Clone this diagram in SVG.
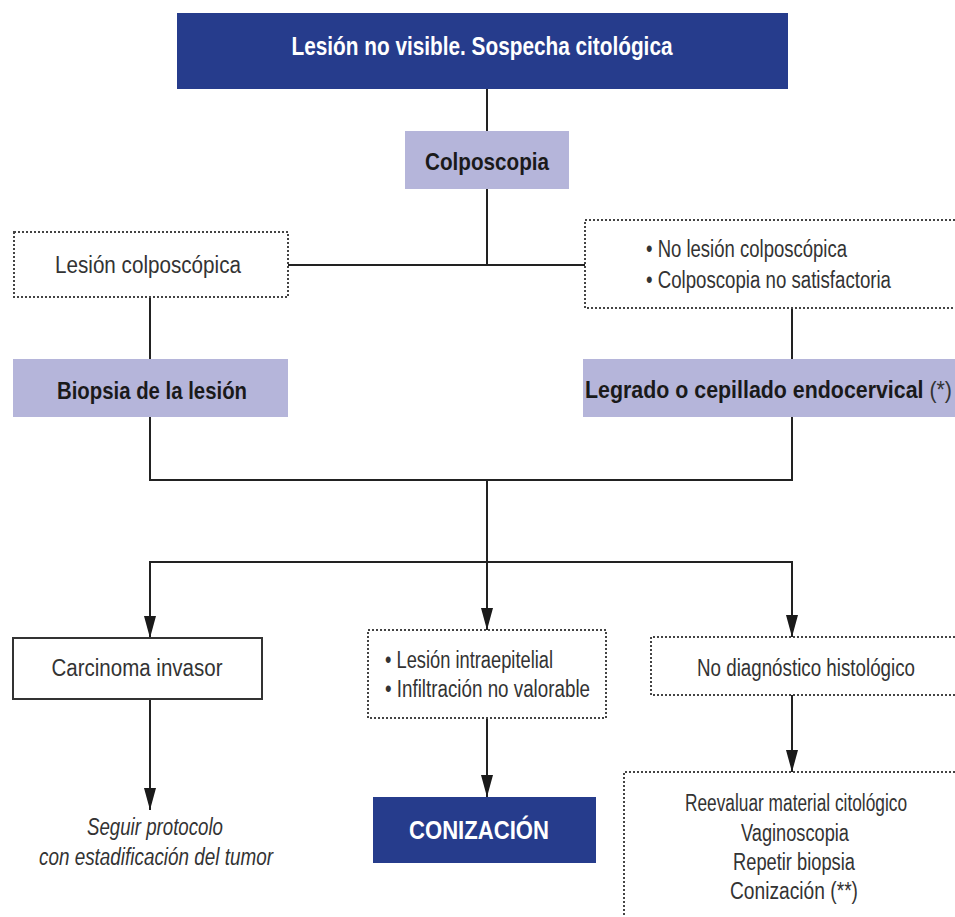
<svg xmlns="http://www.w3.org/2000/svg" width="955" height="917" viewBox="0 0 955 917">
<style>
.t{font-family:"Liberation Sans",Arial,sans-serif;font-size:23px;fill:#333;}
.b{font-family:"Liberation Sans",Arial,sans-serif;font-size:24px;font-weight:bold;fill:#1a1a1a;}
.w{font-family:"Liberation Sans",Arial,sans-serif;font-size:25px;font-weight:bold;fill:#fff;}
.i{font-family:"Liberation Sans",Arial,sans-serif;font-size:23px;font-style:italic;fill:#333;}
.dark{fill:#263c8c;}
.lav{fill:#b5b5da;}
.dot{fill:#fff;stroke:#444;stroke-width:2;stroke-dasharray:2 2;}
.solid{fill:#fff;stroke:#333;stroke-width:2;}
.ln{stroke:#222;stroke-width:2;fill:none;}
</style>
<defs>
<marker id="ah" markerWidth="22" markerHeight="12" refX="22" refY="6" orient="auto" markerUnits="userSpaceOnUse" viewBox="0 0 22 12">
<path d="M0,0 L22,6 L0,12 Z" fill="#1a1a1a"/>
</marker>
</defs>
<rect width="955" height="917" fill="#fff"/>
<g id="connectors">
<line class="ln" x1="487" y1="88" x2="487" y2="131"/>
<line class="ln" x1="487" y1="189" x2="487" y2="265"/>
<line class="ln" x1="288" y1="265" x2="585" y2="265"/>
<line class="ln" x1="150" y1="297" x2="150" y2="359"/>
<line class="ln" x1="792" y1="308" x2="792" y2="359"/>
<polyline class="ln" points="150,417 150,480 792,480 792,417"/>
<line class="ln" x1="487" y1="480" x2="487" y2="562"/>
<polyline class="ln" points="150,637 150,562 792,562 792,637"/>
<line class="ln" x1="150" y1="580" x2="150" y2="638" marker-end="url(#ah)"/>
<line class="ln" x1="487" y1="562" x2="487" y2="630" marker-end="url(#ah)"/>
<line class="ln" x1="792" y1="580" x2="792" y2="637" marker-end="url(#ah)"/>
<line class="ln" x1="150" y1="699" x2="150" y2="810" marker-end="url(#ah)"/>
<line class="ln" x1="487" y1="718" x2="487" y2="797" marker-end="url(#ah)"/>
<line class="ln" x1="792" y1="695" x2="792" y2="772" marker-end="url(#ah)"/>
</g>
<g id="n-top">
<rect class="dark" x="177" y="13" width="611" height="76"/>
<text class="w" x="482" y="55" text-anchor="middle" textLength="381" lengthAdjust="spacingAndGlyphs">Lesión no visible. Sospecha citológica</text>
</g>
<g id="n-colposcopia">
<rect class="lav" x="405" y="131" width="164" height="58"/>
<text class="b" x="487" y="170" text-anchor="middle" textLength="124" lengthAdjust="spacingAndGlyphs">Colposcopia</text>
</g>
<g id="n-lesion">
<rect class="dot" x="14" y="232" width="274" height="65"/>
<text class="t" x="148" y="273" text-anchor="middle" textLength="186" lengthAdjust="spacingAndGlyphs">Lesión colposcópica</text>
</g>
<g id="n-nolesion">
<path class="dot" d="M955,220 H585 V308 H955"/>
<text class="t" x="646" y="257" textLength="201" lengthAdjust="spacingAndGlyphs">• No lesión colposcópica</text>
<text class="t" x="646" y="288" textLength="245" lengthAdjust="spacingAndGlyphs">• Colposcopia no satisfactoria</text>
</g>
<g id="n-biopsia">
<rect class="lav" x="13" y="359" width="275" height="58"/>
<text class="b" x="152" y="399" text-anchor="middle" textLength="190" lengthAdjust="spacingAndGlyphs">Biopsia de la lesión</text>
</g>
<g id="n-legrado">
<rect class="lav" x="583" y="359" width="372" height="58"/>
<text class="b" x="585" y="398" textLength="367" lengthAdjust="spacingAndGlyphs">Legrado o cepillado endocervical <tspan font-weight="normal" fill="#333">(*)</tspan></text>
</g>
<g id="n-carcinoma">
<rect class="solid" x="13" y="638" width="249" height="61"/>
<text class="t" x="137" y="676" text-anchor="middle" textLength="171" lengthAdjust="spacingAndGlyphs">Carcinoma invasor</text>
</g>
<g id="n-intraepitelial">
<rect class="dot" x="368" y="630" width="238" height="88"/>
<text class="t" x="385" y="668" textLength="168" lengthAdjust="spacingAndGlyphs">• Lesión intraepitelial</text>
<text class="t" x="385" y="697" textLength="205" lengthAdjust="spacingAndGlyphs">• Infiltración no valorable</text>
</g>
<g id="n-nodiag">
<path class="dot" d="M955,637 H651 V695 H955"/>
<text class="t" x="806" y="676" text-anchor="middle" textLength="218" lengthAdjust="spacingAndGlyphs">No diagnóstico histológico</text>
</g>
<g id="n-seguir">
<text class="i" x="155" y="835" text-anchor="middle" textLength="136" lengthAdjust="spacingAndGlyphs">Seguir protocolo</text>
<text class="i" x="156" y="865" text-anchor="middle" textLength="234" lengthAdjust="spacingAndGlyphs">con estadificación del tumor</text>
</g>
<g id="n-conizacion">
<rect class="dark" x="373" y="797" width="223" height="66"/>
<text class="w" x="479" y="839" text-anchor="middle" textLength="140" lengthAdjust="spacingAndGlyphs">CONIZACIÓN</text>
</g>
<g id="n-reevaluar">
<path class="dot" d="M955,772 H624 V917"/>
<text class="t" x="796" y="811" text-anchor="middle" textLength="222" lengthAdjust="spacingAndGlyphs">Reevaluar material citológico</text>
<text class="t" x="795" y="841" text-anchor="middle" textLength="108" lengthAdjust="spacingAndGlyphs">Vaginoscopia</text>
<text class="t" x="794" y="870" text-anchor="middle" textLength="122" lengthAdjust="spacingAndGlyphs">Repetir biopsia</text>
<text class="t" x="794" y="899" text-anchor="middle" textLength="128" lengthAdjust="spacingAndGlyphs">Conización (**)</text>
</g>
</svg>
